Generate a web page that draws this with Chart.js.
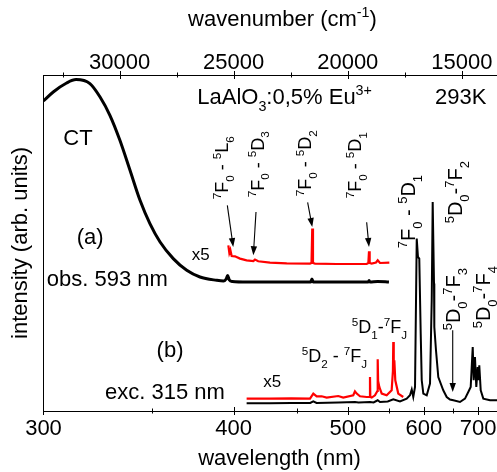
<!DOCTYPE html>
<html><head><meta charset="utf-8">
<script src="https://cdn.jsdelivr.net/npm/chart.js@4.4.0/dist/chart.umd.min.js"></script>
<style>
html,body{margin:0;padding:0;overflow:hidden;background:#fff;width:497px;height:472px;}
#wrap{width:516px;height:472px;position:relative;}
</style></head><body>
<div id="wrap"><canvas id="c"></canvas></div>
<script>
// ---------- data (wavelength in nm, intensity in arb. units) ----------
// (a) excitation spectrum, observed at 593 nm
const excA_nm = [300.0, 303.9, 309.4, 313.4, 319.5, 324.1, 328.7, 333.5, 338.5, 343.6, 348.8, 354.3, 361.7, 369.6, 377.7, 388.4, 393.0, 394.8, 395.8, 397.0, 399.0, 410, 430, 450, 462.5, 463.6, 464.8, 480, 500, 523.5, 524.5, 525.5, 535, 549.6];
const excA_I  = [310.0, 319.0, 328.0, 331.4, 327.4, 314.0, 295.7, 270.7, 240.7, 210.7, 187.4, 169.0, 152.4, 140.7, 134.0, 130.7, 130.0, 132.0, 135.5, 131.0, 129.5, 129.0, 129.0, 129.0, 129.0, 132.0, 129.0, 129.0, 129.0, 129.0, 130.5, 129.0, 129.5, 129.0];
// (a) x5 magnified part
const excA5_nm = [396.3, 397.0, 397.7, 398.6, 400.9, 404.5, 409.3, 414.3, 415.5, 418.0, 427.2, 441.0, 461.8, 463.2, 463.9, 464.6, 466.5, 488.1, 521.6, 523.6, 524.4, 525.2, 527.6, 533.0, 535.1, 538.0, 550.1];
const excA5_I  = [165.7, 158.0, 161.0, 155.0, 154.7, 152.4, 150.7, 150.0, 151.4, 149.7, 148.4, 147.7, 147.4, 148.0, 182.4, 148.0, 147.4, 147.0, 147.0, 148.0, 159.7, 148.0, 147.4, 148.5, 150.7, 148.0, 148.4];
// (b) emission spectrum, excited at 315 nm
const emB_nm = [409.3, 427, 445, 462, 464.9, 468, 490, 508, 512, 525.6, 530, 535.1, 538, 548, 555.4, 564.6, 574.1, 578.9, 581.5, 583.8, 586.4, 589.0, 590.9, 592.9, 595.1, 596.7, 599.2, 604.6, 609.9, 612.7, 614.3, 616.5, 617.0, 619.8, 623.7, 632.3, 638.4, 644.3, 650.4, 663.0, 672.8, 679.4, 684.3, 688.5, 690.5, 693.2, 696.0, 699.0, 701.1, 702.4, 705.5, 711.2, 726.4, 742.9, 790];
const emB_I  = [7.7, 7.7, 8.0, 8.0, 9.7, 8.0, 8.5, 9.0, 8.5, 9.0, 8.5, 10.7, 9.0, 9.5, 11.7, 9.5, 12.4, 15.7, 21.4, 14.0, 24.0, 172.4, 154.0, 152.4, 77.4, 30.7, 17.4, 15.7, 27.4, 110.7, 209.0, 127.4, 84.0, 60.7, 34.0, 20.7, 14.0, 11.4, 10.7, 9.0, 12.4, 19.0, 24.0, 64.0, 30.7, 54.0, 24.0, 44.0, 30.7, 45.7, 20.7, 12.4, 10.7, 10.7, 10.0];
// (b) x5 magnified part
const emB5_nm = [409.3, 427, 445, 461.8, 464.9, 468.1, 473.0, 477.9, 489.8, 495.1, 506.1, 508.0, 510.0, 513.8, 521.6, 525.2, 525.6, 526.0, 527.7, 531.7, 534.7, 535.1, 535.6, 537.1, 540.2, 546.6, 553.2, 554.9, 555.4, 556.0, 556.8, 558.1, 562.2, 569.2];
const emB5_I  = [12.4, 12.4, 12.7, 12.4, 17.4, 14.7, 14.7, 13.4, 15.0, 13.4, 15.7, 19.7, 17.4, 14.7, 14.0, 14.0, 34.0, 14.0, 13.4, 15.7, 20.0, 51.7, 30.0, 24.0, 17.4, 15.7, 20.7, 40.0, 69.0, 45.0, 50.7, 30.7, 17.4, 14.0];

// tick labels
const nmTicks = [300, 400, 500, 600, 700];
const nmMinor = [350, 450, 550, 650];
const wnTicks = [15000, 20000, 25000, 30000];
const wnMinor = [17500, 22500, 27500, 32500];

// ---------- annotations (data coordinates: nm, intensity) ----------
const S = 1, B = -1, N = 0; // sup, sub, normal
const texts = [
  {seg:[['LaAlO',N],['3',B],[':0,5% Eu',N],['3+',S]], nm:376.0, I:307.4, size:22},
  {seg:[['293K',N]], nm:618.1, I:307.4, size:22},
  {seg:[['CT',N]], nm:308.0, I:265.7, size:22},
  {seg:[['(a)',N]], nm:313.7, I:167.2, size:22},
  {seg:[['x5',N]], nm:372.6, I:151.4, size:17},
  {seg:[['obs. 593 nm',N]], nm:301.3, I:124.7, size:22},
  {seg:[['(b)',N]], nm:352.4, I:53.7, size:22},
  {seg:[['exc. 315 nm',N]], nm:326.4, I:12.2, size:22},
  {seg:[['x5',N]], nm:421.9, I:23.7, size:17},
  {seg:[['5',S],['D',N],['1',B],['-',N],['7',S],['F',N],['J',B]], nm:504.3, I:77.7, size:18},
  {seg:[['5',S],['D',N],['2',B],[' - ',N],['7',S],['F',N],['J',B]], nm:454.2, I:48.7, size:18},
  // rotated labels
  {seg:[['7',S],['F',N],['0',B],[' - ',N],['5',S],['L',N],['6',B]], nm:396.4, I:211.7, size:18, rot:true},
  {seg:[['7',S],['F',N],['0',B],[' - ',N],['5',S],['D',N],['3',B]], nm:422.1, I:213.7, size:18, rot:true},
  {seg:[['7',S],['F',N],['0',B],[' - ',N],['5',S],['D',N],['2',B]], nm:462.7, I:214.7, size:18, rot:true},
  {seg:[['7',S],['F',N],['0',B],[' - ',N],['5',S],['D',N],['1',B]], nm:515.5, I:212.7, size:18, rot:true},
  {seg:[['7',S],['F',N],['0',B],[' - ',N],['5',S],['D',N],['1',B]], nm:586.4, I:162.7, size:20, rot:true},
  {seg:[['5',S],['D',N],['0',B],['-',N],['7',S],['F',N],['2',B]], nm:666.9, I:187.7, size:20, rot:true},
  {seg:[['5',S],['D',N],['0',B],['-',N],['7',S],['F',N],['3',B]], nm:663.0, I:80.7, size:20, rot:true},
  {seg:[['5',S],['D',N],['0',B],['-',N],['7',S],['F',N],['4',B]], nm:726.4, I:82.7, size:20, rot:true}
];
const arrows = [
  [395.6, 205.7, 399.7, 164.0],
  [416.3, 199.0, 414.3, 155.7],
  [459.6, 208.7, 463.9, 184.0],
  [521.6, 188.7, 524.4, 164.0],
  [649.3, 80.7, 649.3, 19.0]
];

const FONT = '"Liberation Sans", Arial, Helvetica, sans-serif';
const toWn = nm => 1e7 / nm;
const pts = (nm, I) => nm.map((v, i) => ({x: toWn(v), y: I[i]}));

function drawRich(ctx, segs, x, y, size, rot, center) {
  ctx.save();
  ctx.translate(x, y);
  if (rot) ctx.rotate(-Math.PI / 2);
  ctx.fillStyle = '#000';
  ctx.textBaseline = 'alphabetic';
  ctx.textAlign = 'left';
  let total = 0;
  const parts = segs.map(([t, m]) => {
    const fs = m ? size * 0.65 : size;
    ctx.font = fs + 'px ' + FONT;
    const w = ctx.measureText(t).width;
    total += w;
    return {t, m, fs, w};
  });
  let cx = center ? -total / 2 : 0;
  for (const p of parts) {
    ctx.font = p.fs + 'px ' + FONT;
    const dy = p.m === S ? -size * 0.4 : (p.m === B ? size * 0.33 : 0);
    ctx.fillText(p.t, cx, dy);
    cx += p.w;
  }
  ctx.restore();
}

const annotPlugin = {
  id: 'annot',
  afterDraw(chart) {
    const ctx = chart.ctx, xs = chart.scales.x, ys = chart.scales.y, x2 = chart.scales.x2;
    const ca = chart.chartArea;
    // tick marks crossing the axes
    ctx.save();
    ctx.strokeStyle = '#000';
    ctx.lineWidth = 1;
    const tick = (px, py, len) => { ctx.beginPath(); ctx.moveTo(Math.round(px) + 0.5, py - len); ctx.lineTo(Math.round(px) + 0.5, py + len); ctx.stroke(); };
    nmTicks.forEach(n => tick(xs.getPixelForValue(toWn(n)), ca.bottom, 4));
    nmMinor.forEach(n => tick(xs.getPixelForValue(toWn(n)), ca.bottom, 2.5));
    wnTicks.forEach(w => tick(x2.getPixelForValue(w), ca.top, 4));
    wnMinor.forEach(w => tick(x2.getPixelForValue(w), ca.top, 2.5));
    ctx.restore();

    // top axis title with superscript
    drawRich(ctx, [['wavenumber (cm', N], ['-1', S], [')', N]], (ca.left + ca.right) / 2 + 3, 25.5, 22, false, true);

    // annotations
    texts.forEach(t => {
      drawRich(ctx, t.seg, xs.getPixelForValue(toWn(t.nm)), ys.getPixelForValue(t.I), t.size, !!t.rot, false);
    });
    // arrows
    ctx.save();
    ctx.strokeStyle = '#000'; ctx.fillStyle = '#000'; ctx.lineWidth = 1.1;
    arrows.forEach(([n1, i1, n2, i2]) => {
      const xa = xs.getPixelForValue(toWn(n1)), ya = ys.getPixelForValue(i1);
      const xb = xs.getPixelForValue(toWn(n2)), yb = ys.getPixelForValue(i2);
      const ang = Math.atan2(yb - ya, xb - xa);
      const L = 9, W = 3.2;
      ctx.beginPath(); ctx.moveTo(xa, ya);
      ctx.lineTo(xb - Math.cos(ang) * L * 0.8, yb - Math.sin(ang) * L * 0.8); ctx.stroke();
      ctx.beginPath();
      ctx.moveTo(xb, yb);
      ctx.lineTo(xb - Math.cos(ang) * L - Math.sin(ang) * W, yb - Math.sin(ang) * L + Math.cos(ang) * W);
      ctx.lineTo(xb - Math.cos(ang) * L + Math.sin(ang) * W, yb - Math.sin(ang) * L - Math.cos(ang) * W);
      ctx.closePath(); ctx.fill();
    });
    ctx.restore();
  }
};

Chart.defaults.font.family = FONT;
Chart.defaults.color = '#000';

const ds = (nm, I, color, w, mono) => ({
  data: pts(nm, I), borderColor: color, backgroundColor: color, borderWidth: w,
  pointRadius: 0, fill: false, tension: 0, cubicInterpolationMode: mono ? 'monotone' : 'default',
  xAxisID: 'x', yAxisID: 'y'
});

new Chart(document.getElementById('c'), {
  type: 'line',
  data: {
    datasets: [
      ds(excA5_nm, excA5_I, '#ff0000', 2.2, false),
      ds(emB5_nm, emB5_I, '#ff0000', 2.2, false),
      ds(excA_nm, excA_I, '#000000', 3, true),
      ds(emB_nm, emB_I, '#000000', 2, false)
    ]
  },
  options: {
    responsive: true, maintainAspectRatio: false, animation: false,
    layout: {padding: 0},
    plugins: {legend: {display: false}, tooltip: {enabled: false}, title: {display: false}},
    scales: {
      x: {
        type: 'linear', position: 'bottom', reverse: true, min: 12628, max: 33355,
        grid: {display: false, drawTicks: false},
        border: {display: true, color: '#000', width: 1},
        afterBuildTicks: s => { s.ticks = nmTicks.map(n => ({value: toWn(n)})); },
        ticks: {autoSkip: false, maxRotation: 0, padding: 7.2, font: {size: 22, lineHeight: 1},
                callback: v => String(Math.round(1e7 / v))},
        title: {display: true, text: 'wavelength (nm)', font: {size: 22}, padding: {top: 0, bottom: 0}},
        afterFit: s => { s.height = 61; s.paddingLeft = 0; s.paddingRight = 0; }
      },
      x2: {
        type: 'linear', position: 'top', reverse: true, min: 12628, max: 33355,
        grid: {display: false, drawTicks: false},
        border: {display: true, color: '#000', width: 1},
        afterBuildTicks: s => { s.ticks = wnTicks.map(v => ({value: v})); },
        ticks: {autoSkip: false, maxRotation: 0, padding: 0.7, font: {size: 22, lineHeight: 1},
                callback: v => String(v)},
        afterFit: s => { s.height = 75; s.paddingLeft = 0; s.paddingRight = 0; }
      },
      y: {
        type: 'linear', position: 'left', min: 0, max: 336,
        grid: {display: false, drawTicks: false},
        border: {display: true, color: '#000', width: 1},
        ticks: {display: false},
        title: {display: true, text: 'intensity (arb. units)', font: {size: 22}, padding: {top: 7.4, bottom: 0}},
        afterFit: s => { s.width = 43; s.paddingTop = 0; s.paddingBottom = 0; }
      }
    }
  },
  plugins: [annotPlugin]
});
</script>
</body></html>
